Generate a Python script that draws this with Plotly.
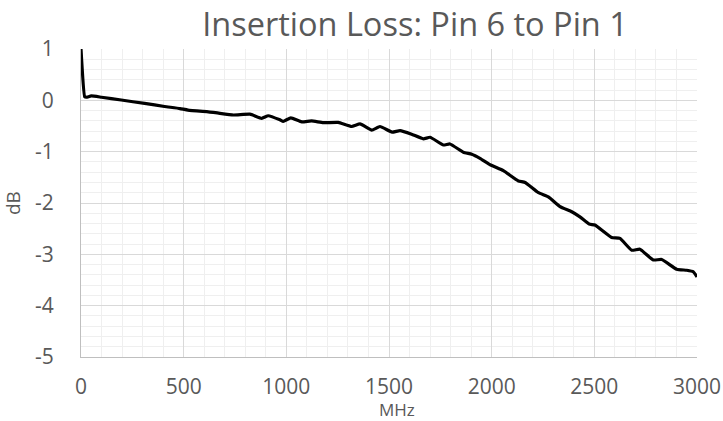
import plotly.graph_objects as go

freq_mhz = [0, 18, 26, 50, 100, 196, 310, 407, 482, 521, 644, 742, 823, 880, 912, 969, 985,
            1022, 1075, 1123, 1180, 1253, 1318, 1359, 1416, 1456, 1515, 1554, 1610, 1667,
            1700, 1765, 1797, 1862, 1903, 1943, 1995, 2057, 2130, 2163, 2228, 2276, 2333,
            2390, 2430, 2475, 2503, 2584, 2625, 2682, 2722, 2787, 2828, 2901, 2950, 2982, 3000]
loss_db = [1.0, 0.07, 0.06, 0.085, 0.06, 0.006, -0.06, -0.12, -0.16, -0.19, -0.235, -0.286, -0.27,
           -0.35, -0.30, -0.38, -0.41, -0.34, -0.42, -0.40, -0.435, -0.43, -0.51, -0.46, -0.58,
           -0.51, -0.62, -0.59, -0.66, -0.75, -0.72, -0.87, -0.85, -1.01, -1.05, -1.13, -1.26,
           -1.37, -1.57, -1.60, -1.80, -1.88, -2.07, -2.17, -2.27, -2.41, -2.43, -2.67, -2.69,
           -2.92, -2.90, -3.11, -3.10, -3.29, -3.31, -3.34, -3.44]

x_ticks = [0, 500, 1000, 1500, 2000, 2500, 3000]
y_ticks = [1, 0, -1, -2, -3, -4, -5]

FONT = "Open Sans"
GREY = "#595959"

fig = go.Figure()
fig.add_trace(go.Scatter(
    x=freq_mhz, y=loss_db, mode="lines",
    line=dict(color="black", width=3.2, shape="spline", smoothing=0.4),
    showlegend=False,
))

fig.update_layout(
    width=723, height=421,
    margin=dict(l=81, r=26, t=49, b=64, autoexpand=False),
    paper_bgcolor="white", plot_bgcolor="white",
    font=dict(family=FONT, color=GREY, size=20),
    title=dict(text="Insertion Loss: Pin 6 to Pin 1", x=415 / 723, xanchor="center",
               xref="container", y=1 - 25 / 421, yanchor="middle", yref="container",
               font=dict(family=FONT, size=32.5, color=GREY)),
    annotations=[
        dict(text="MHz", xref="paper", yref="paper", x=(397 - 81) / 616, y=(357 - 409.5) / 308,
             xanchor="center", yanchor="middle", showarrow=False,
             font=dict(family=FONT, size=17, color=GREY)),
        dict(text="dB", xref="paper", yref="paper", x=(13 - 81) / 616, y=0.5, textangle=-90,
             xanchor="center", yanchor="middle", showarrow=False,
             font=dict(family=FONT, size=19, color=GREY)),
    ],
)

fig.update_xaxes(
    range=[0, 3000], tickvals=x_ticks, ticktext=[str(v) for v in x_ticks],
    showgrid=True, gridcolor="#d9d9d9", gridwidth=1.2, zeroline=False,
    showline=True, linecolor="#bfbfbf", linewidth=1.2, mirror=False, automargin=False,
    ticks="", ticklabelstandoff=11, tickfont=dict(family=FONT, size=21, color=GREY),
    minor=dict(dtick=100, showgrid=True, gridcolor="#efefef", gridwidth=1.2, ticks=""),
)
fig.update_yaxes(
    range=[-5, 1], tickvals=y_ticks, ticktext=[str(v) for v in y_ticks],
    showgrid=True, gridcolor="#d9d9d9", gridwidth=1.2, zeroline=False,
    showline=True, linecolor="#bfbfbf", linewidth=1.2, automargin=False,
    ticks="", ticklabelstandoff=22, tickfont=dict(family=FONT, size=21, color=GREY),
    minor=dict(dtick=0.2, showgrid=True, gridcolor="#efefef", gridwidth=1.2, ticks=""),
)

fig.write_html("out.html", config={"displayModeBar": False})

with open("out.html", "r", encoding="utf-8") as f:
    html = f.read()
html = html.replace("<head>", "<head><style>html,body{margin:0;padding:0;overflow:hidden;}</style>", 1)
with open("out.html", "w", encoding="utf-8") as f:
    f.write(html)
